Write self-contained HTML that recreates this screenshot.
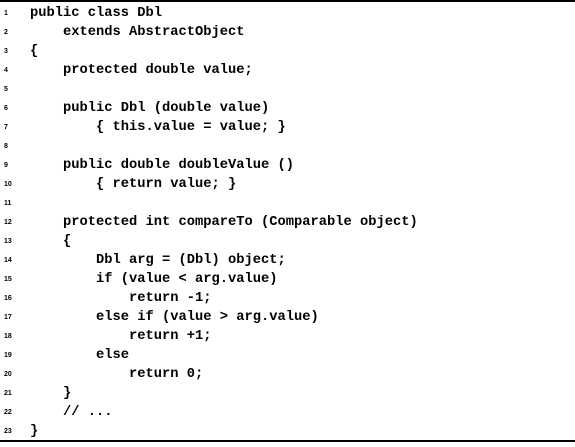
<!DOCTYPE html>
<html><head><style>
html,body{margin:0;padding:0;background:#fff;}
body{width:575px;height:447px;position:relative;overflow:hidden;}
.b{position:absolute;left:0;width:575px;height:2px;background:#000;}
.l{position:absolute;left:0;height:19px;line-height:19px;white-space:pre;}
.n{position:absolute;left:4px;width:12px;font:bold 7px "Liberation Sans",sans-serif;line-height:19px;}
.c{position:absolute;left:30px;font:bold 13.75px "Liberation Mono",monospace;line-height:19px;}
</style></head><body>
<div class="b" style="top:0"></div>
<div class="b" style="top:440px"></div>
<div class="l" style="top:4px"><span class="n">1</span><span class="c">public class Dbl</span></div>
<div class="l" style="top:23px"><span class="n">2</span><span class="c">    extends AbstractObject</span></div>
<div class="l" style="top:42px"><span class="n">3</span><span class="c">{</span></div>
<div class="l" style="top:61px"><span class="n">4</span><span class="c">    protected double value;</span></div>
<div class="l" style="top:80px"><span class="n">5</span><span class="c"></span></div>
<div class="l" style="top:99px"><span class="n">6</span><span class="c">    public Dbl (double value)</span></div>
<div class="l" style="top:118px"><span class="n">7</span><span class="c">        { this.value = value; }</span></div>
<div class="l" style="top:137px"><span class="n">8</span><span class="c"></span></div>
<div class="l" style="top:156px"><span class="n">9</span><span class="c">    public double doubleValue ()</span></div>
<div class="l" style="top:175px"><span class="n">10</span><span class="c">        { return value; }</span></div>
<div class="l" style="top:194px"><span class="n">11</span><span class="c"></span></div>
<div class="l" style="top:213px"><span class="n">12</span><span class="c">    protected int compareTo (Comparable object)</span></div>
<div class="l" style="top:232px"><span class="n">13</span><span class="c">    {</span></div>
<div class="l" style="top:251px"><span class="n">14</span><span class="c">        Dbl arg = (Dbl) object;</span></div>
<div class="l" style="top:270px"><span class="n">15</span><span class="c">        if (value &lt; arg.value)</span></div>
<div class="l" style="top:289px"><span class="n">16</span><span class="c">            return -1;</span></div>
<div class="l" style="top:308px"><span class="n">17</span><span class="c">        else if (value &gt; arg.value)</span></div>
<div class="l" style="top:327px"><span class="n">18</span><span class="c">            return +1;</span></div>
<div class="l" style="top:346px"><span class="n">19</span><span class="c">        else</span></div>
<div class="l" style="top:365px"><span class="n">20</span><span class="c">            return 0;</span></div>
<div class="l" style="top:384px"><span class="n">21</span><span class="c">    }</span></div>
<div class="l" style="top:403px"><span class="n">22</span><span class="c">    // ...</span></div>
<div class="l" style="top:422px"><span class="n">23</span><span class="c">}</span></div>
</body></html>
